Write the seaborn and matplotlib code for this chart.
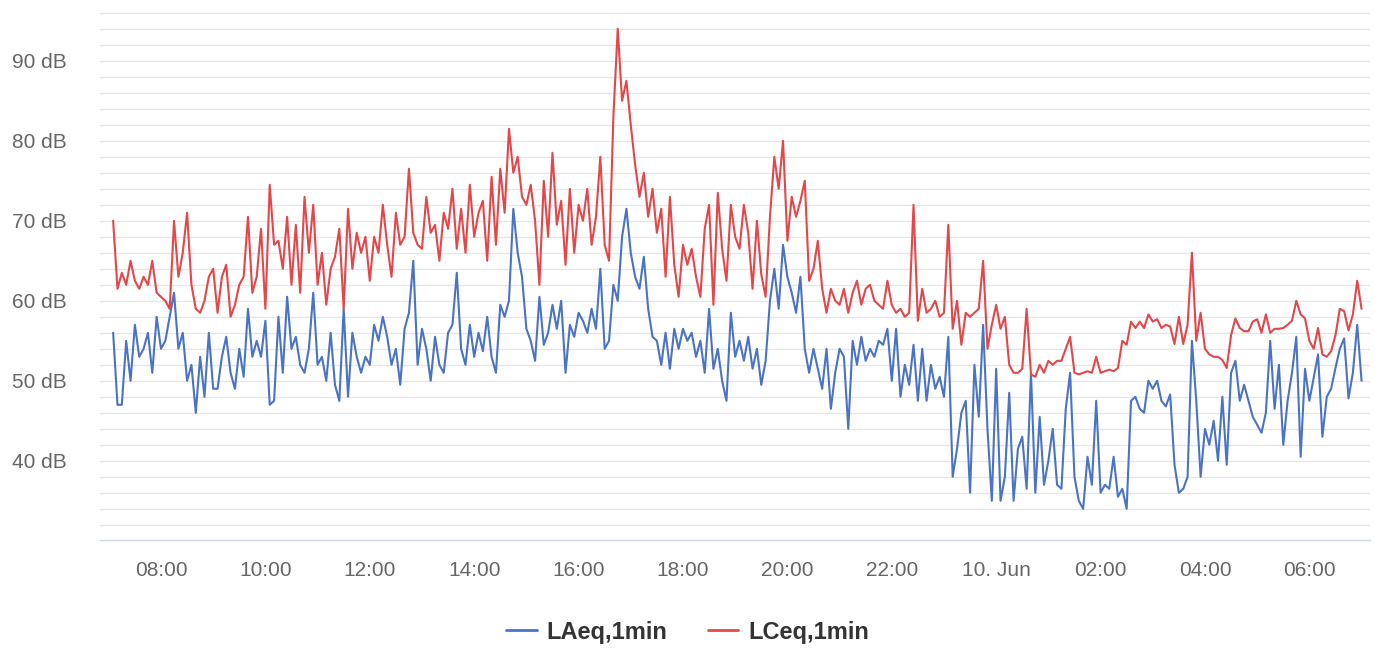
import numpy as np
import pandas as pd
import matplotlib
matplotlib.use("Agg")
import matplotlib.pyplot as plt
from matplotlib.lines import Line2D
import seaborn as sns

# ---- data: 5-minute samples, 07:05 (9 Jun) .. 07:00 (10 Jun)
start_time = "2021-06-09 07:05"
step = "5min"
series_names = ["LAeq,1min", "LCeq,1min"]

laeq = [
    56, 47, 47, 55, 50, 57, 53, 54, 56, 51, 58, 54,              # 07
    55, 58, 61, 54, 56, 50, 52, 46, 53, 48, 56, 49,              # 08
    49, 53, 55.5, 51, 49, 54, 50.5, 59, 53, 55, 53, 57.5,        # 09
    47, 47.5, 58, 51, 60.5, 54, 55.5, 52, 51, 54, 61, 52,        # 10
    53, 50, 56, 49.5, 47.5, 59, 48, 56, 53, 51, 53, 52,          # 11
    57, 55, 58, 55.5, 52, 54, 49.5, 56.5, 58.5, 65, 52, 56.5,    # 12
    54, 50, 55.5, 52, 51, 56, 57, 63.5, 54, 52, 57, 53,          # 13
    56, 53.7, 58, 53, 51, 59.5, 58, 60, 71.5, 66, 63, 56.5,      # 14
    55, 52.5, 60.5, 54.5, 56, 59.5, 56.5, 60, 51, 57, 55.5, 58.5,# 15
    57.5, 56, 59, 56.5, 64, 54, 55, 62, 60, 68, 71.5, 66,        # 16
    63, 61.5, 65.5, 59, 55.5, 55, 52, 56, 51.5, 56.5, 54, 56.5,  # 17
    55, 56, 53, 55, 51, 59, 51.5, 54, 50, 47.5, 58.5, 53,        # 18
    55, 52.5, 55.5, 51.5, 54, 49.5, 52.5, 60, 64, 59, 67, 63,    # 19
    61, 58.5, 63, 54, 51, 54, 51.5, 49, 54, 46.5, 51, 54,        # 20
    53, 44, 55, 52, 55.5, 52.5, 54, 53, 55, 54.5, 56.5, 50,      # 21
    56.5, 48, 52, 49.5, 54.5, 47.5, 54, 47.5, 52, 49, 50.5, 48,  # 22
    55.5, 38, 41.5, 46, 47.5, 36, 52, 45.5, 57, 44, 35, 51.5,    # 23
    35, 38, 48.5, 35, 41.5, 43, 36.5, 51, 36, 45.5, 37, 40,      # 00
    44, 37, 36.5, 46.5, 51, 38, 35, 34, 40.5, 37, 47.5, 36,      # 01
    37, 36.5, 40.5, 35.5, 36.5, 34, 47.5, 48, 46.5, 46, 50, 49,  # 02
    50, 47.5, 46.8, 48.3, 39.5, 36, 36.5, 38, 55, 47.5, 38, 44,  # 03
    42, 45, 40, 48, 39.5, 51, 52.5, 47.5, 49.5, 47.5, 45.5, 44.5,# 04
    43.5, 46, 55, 46.5, 52, 42, 47.5, 51, 55.5, 40.5, 51.5, 47.5,# 05
    50.4, 53.3, 43, 48, 49, 51.6, 54, 55.3, 47.8, 51, 57, 50,    # 06
]

lceq = [
    70.0, 61.5, 63.5, 62.0, 65.0, 62.5, 61.5, 63.0, 62.0, 65.0, 61.0, 60.5,  # 07
    60, 59, 70, 63, 66, 71, 62, 59, 58.5, 60, 63, 64,                        # 08
    58.5, 63, 64.5, 58, 59.5, 62, 63, 70.5, 61, 63, 69, 59,                  # 09
    74.5, 67, 67.5, 64, 70.5, 62, 69.5, 61, 73, 66, 72, 62,                  # 10
    66, 59.5, 64, 65.5, 69, 59, 71.5, 64, 68.5, 66, 68, 62.5,                # 11
    68, 66, 72, 67, 63, 71, 67, 68, 76.5, 68.5, 67, 66.5,                    # 12
    73, 68.5, 69.5, 65, 71, 69, 74, 66.5, 71.5, 66, 74.5, 68,                # 13
    71, 72.5, 65, 75.5, 67, 76.5, 71, 81.5, 76, 78, 73, 72,                  # 14
    74.5, 70, 62, 75, 68, 78.5, 69.5, 72.5, 64.5, 74, 66, 72,                # 15
    70, 74, 67, 70.5, 78, 67, 65, 83, 94, 85, 87.5, 82,                      # 16
    77, 73, 76, 70.5, 74, 68.5, 71.5, 63, 73, 64.5, 60.5, 67,                # 17
    64.5, 66.5, 63, 60.5, 69, 72, 59.5, 73.5, 66.5, 62.5, 72, 68,            # 18
    66.5, 72, 68.5, 61.5, 70, 63.3, 60.5, 70.5, 78, 74, 80, 67.5,            # 19
    73, 70.5, 72.5, 75, 62.5, 64, 67.5, 61.5, 58.5, 61.5, 60, 59.5,          # 20
    61.5, 58.5, 61, 62.5, 59.5, 61.5, 62, 60, 59.5, 59, 62.5, 59.5,          # 21
    58.5, 59, 58, 58.5, 72, 57.5, 61.5, 58.5, 59, 60, 58, 58.5,              # 22
    69.5, 56.5, 60, 54.5, 58.5, 58, 58.5, 59, 65, 54, 57, 59.5,              # 23
    56.5, 58, 52, 51, 51, 51.5, 59, 50.8, 50.5, 52, 51, 52.5,                # 00
    52, 52.5, 52.5, 54, 55.5, 51, 50.8, 51, 51.2, 51, 53, 51,                # 01
    51.2, 51.4, 51.2, 51.6, 55, 54.5, 57.4, 56.6, 57.4, 56.6, 58.3, 57.4,    # 02
    57.7, 56.6, 57, 56.8, 54.6, 58, 54.6, 57, 66, 55, 58.5, 54,              # 03
    53.3, 53, 53, 52.6, 51.6, 55.7, 57.8, 56.6, 56.2, 56.2, 57.4, 57.7,      # 04
    56, 58.3, 56, 56.5, 56.5, 56.6, 57, 57.5, 60, 58.3, 57.8, 55,            # 05
    54, 56.6, 53.3, 53, 53.7, 55.7, 59, 58.7, 56.3, 58.3, 62.5, 59,          # 06
]

major_ticks = [40, 50, 60, 70, 80, 90]
colors = {"LAeq,1min": "#4a73c6", "LCeq,1min": "#e4474a"}

times = pd.date_range(start_time, periods=len(laeq), freq=step)
df = pd.DataFrame({
    "time": list(times) + list(times),
    "value": laeq + lceq,
    "series": [series_names[0]] * len(laeq) + [series_names[1]] * len(lceq),
})

sns.set_theme(style="white")
plt.rcParams["font.family"] = ["Liberation Sans", "DejaVu Sans"]

W, H = 1375, 648
fig = plt.figure(figsize=(W / 100, H / 100), dpi=100)
L, R, T, B = 100, 1370, 12, 540
ax = fig.add_axes([L / W, 1 - B / H, (R - L) / W, (B - T) / H])

sns.lineplot(data=df, x="time", y="value", hue="series", hue_order=series_names,
             palette=colors, linewidth=1.5, ax=ax, legend=False, estimator=None)

t0 = pd.Timestamp("2021-06-09 07:00")
ax.set_xlim(t0 - pd.Timedelta(minutes=10.1), t0 + pd.Timedelta(hours=24, minutes=9.7))
ax.set_ylim(30.1, 96.1)

# y grid: minor every 2 dB, labelled every 10 dB
ax.set_yticks(major_ticks)
ax.set_yticks(np.arange(32, 97, 2), minor=True)
ax.yaxis.grid(True, which="both", color="#e6e6e6", linewidth=1.0)
ax.set_yticklabels([f"{v} dB" for v in major_ticks], color="#666666", fontsize=15)
ax.tick_params(axis="y", which="both", length=0, pad=24)

# x ticks every 2 hours
xt = pd.date_range("2021-06-09 08:00", "2021-06-10 06:00", freq="2h")
ax.set_xticks(xt)
ax.set_xticklabels(["10. Jun" if t.hour == 0 else t.strftime("%H:%M") for t in xt],
                   color="#666666", fontsize=15)
ax.tick_params(axis="x", length=7, width=1, color="#ccd6eb", pad=8, direction="out")
ax.xaxis.grid(False)

for s in ["top", "right", "left"]:
    ax.spines[s].set_visible(False)
ax.spines["bottom"].set_color("#ccd6eb")
ax.spines["bottom"].set_linewidth(1)
ax.set_xlabel("")
ax.set_ylabel("")

handles = [Line2D([0], [0], color=colors[n], linewidth=2.0) for n in series_names]
fig.legend(handles, series_names, loc="center", bbox_to_anchor=(0.5, 1 - 632 / H),
           ncol=2, frameon=False, handlelength=1.3, handletextpad=0.42, columnspacing=1.7,
           prop={"weight": "bold", "size": 17}, labelcolor="#333333")

fig.savefig("out.png", dpi=100, facecolor="white")
